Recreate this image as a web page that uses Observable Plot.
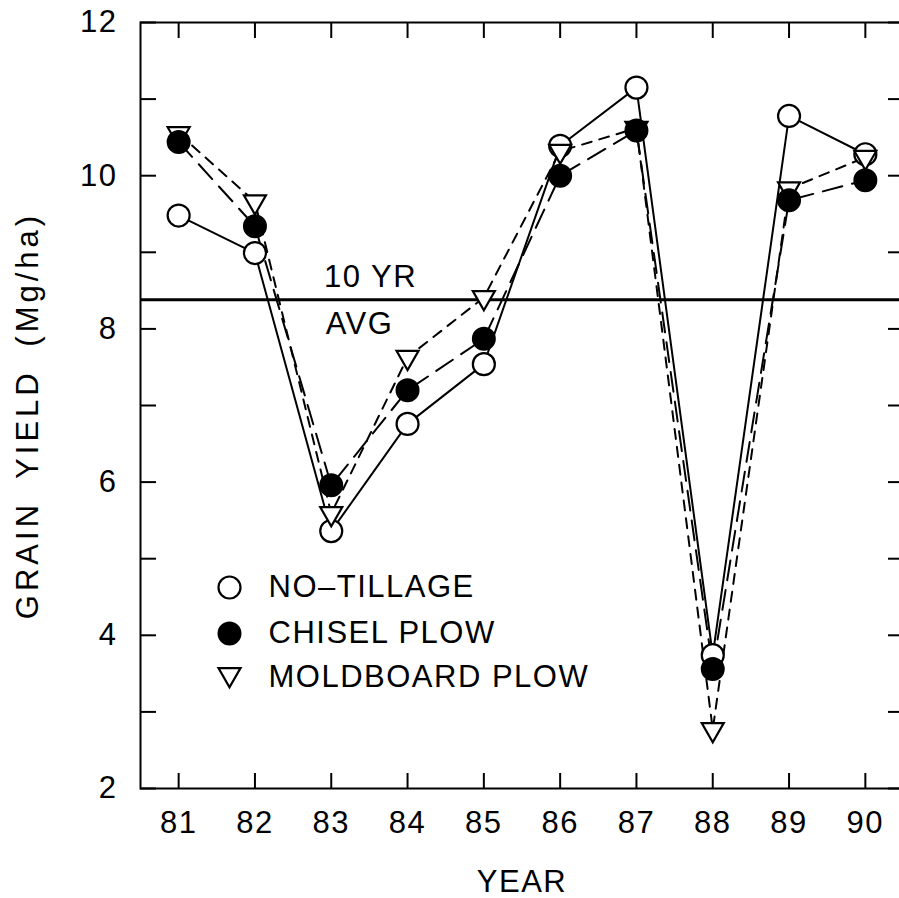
<!DOCTYPE html>
<html>
<head>
<meta charset="utf-8">
<script src="https://cdn.jsdelivr.net/npm/d3@7"></script>
<script src="https://cdn.jsdelivr.net/npm/@observablehq/plot@0.6"></script>
<style>
  html, body { margin: 0; padding: 0; background: #fff; }
  #chart { width: 899px; height: 898px; overflow: hidden; }
</style>
</head>
<body>
<div id="chart"></div>
<script>
const years = [81, 82, 83, 84, 85, 86, 87, 88, 89, 90];
const noTillage = [9.48, 8.99, 5.36, 6.76, 7.54, 10.39, 11.15, 3.74, 10.78, 10.28];
const chiselPlow = [10.44, 9.34, 5.96, 7.20, 7.87, 10.00, 10.59, 3.56, 9.68, 9.94];
const moldboardPlow = [10.55, 9.66, 5.59, 7.63, 8.41, 10.32, 10.62, 2.77, 9.83, 10.24];
const tenYearAvg = 8.38;
const yTicks = [2, 4, 6, 8, 10, 12];
const yMinorTicks = [2, 3, 4, 5, 6, 7, 8, 9, 10, 11, 12];
const legendLabels = ["NO\u2013TILLAGE", "CHISEL PLOW", "MOLDBOARD PLOW"];

const rows = (vals, series) => years.map((yr, i) => ({year: yr, value: vals[i], series}));
const nt = rows(noTillage, "NO-TILLAGE");
const cp = rows(chiselPlow, "CHISEL PLOW");
const mp = rows(moldboardPlow, "MOLDBOARD PLOW");

const triangleDown = {
  draw(context, size) {
    const r = Math.sqrt(size / Math.PI);
    context.moveTo(-r, -0.577 * r);
    context.lineTo(r, -0.577 * r);
    context.lineTo(0, 1.155 * r);
    context.closePath();
  }
};

const font = "Liberation Sans, Arial, Helvetica, sans-serif";
const R = 11;
const tickOpts = {tickFormat: null, label: null, strokeWidth: 2, fill: "none"};
const txt = {fontSize: 31, lineAnchor: "middle"};

const chart = Plot.plot({
  width: 899,
  height: 898,
  marginLeft: 140,
  marginRight: -4,
  marginTop: 22,
  marginBottom: 110,
  style: {fontFamily: font, fontSize: "31px", color: "#000", background: "#fff", overflow: "hidden"},
  x: {domain: [80.5, 90.5], axis: null},
  y: {domain: [2, 12], axis: null},
  marks: [
    Plot.frame({stroke: "#000", strokeWidth: 2}),
    // inward ticks
    Plot.axisX(years, {anchor: "bottom", tickSize: -15, ...tickOpts}),
    Plot.axisX(years, {anchor: "top", tickSize: -15, ...tickOpts}),
    Plot.axisY(yMinorTicks, {anchor: "left", tickSize: -16, ...tickOpts}),
    Plot.axisY(yMinorTicks, {anchor: "right", tickSize: -16, ...tickOpts}),
    // tick labels
    Plot.axisX(years, {anchor: "bottom", tickSize: 0, tickPadding: 22, label: null, fontSize: 31, tickFormat: d => String(d)}),
    Plot.axisY(yTicks, {anchor: "left", tickSize: 0, tickPadding: 23, label: null, fontSize: 31, tickFormat: d => String(d)}),
    // axis titles
    Plot.text(["YEAR"], {frameAnchor: "bottom", dy: 94, textAnchor: "middle", text: d => d, ...txt}),
    Plot.text(["GRAIN YIELD (Mg/ha)"], {frameAnchor: "left", dx: -112, dy: 10, rotate: -90, textAnchor: "middle", text: d => d, className: "ylabel", ...txt}),
    // 10 yr average
    Plot.ruleY([tenYearAvg], {stroke: "#000", strokeWidth: 3}),
    Plot.text([tenYearAvg], {y: d => d, frameAnchor: "left", dx: 230, dy: -23, textAnchor: "middle", text: () => "10 YR", ...txt}),
    Plot.text([tenYearAvg], {y: d => d, frameAnchor: "left", dx: 219, dy: 24, textAnchor: "middle", text: () => "AVG", ...txt}),
    // series lines
    Plot.line(nt, {x: "year", y: "value", stroke: "#000", strokeWidth: 2}),
    Plot.line(cp, {x: "year", y: "value", stroke: "#000", strokeWidth: 2, strokeDasharray: "20,10"}),
    Plot.line(mp, {x: "year", y: "value", stroke: "#000", strokeWidth: 2, strokeDasharray: "10,8"}),
    // markers
    Plot.dot(nt, {x: "year", y: "value", r: R, fill: "#fff", stroke: "#000", strokeWidth: 2.2}),
    Plot.dot(mp, {x: "year", y: "value", r: R, symbol: triangleDown, fill: "#fff", stroke: "#000", strokeWidth: 2.2}),
    Plot.dot(cp, {x: "year", y: "value", r: R, fill: "#000", stroke: "#000", strokeWidth: 2}),
    // legend
    Plot.dot([legendLabels[0]], {frameAnchor: "top-left", dx: 89, dy: 565, r: R, fill: "#fff", stroke: "#000", strokeWidth: 2.2}),
    Plot.dot([legendLabels[1]], {frameAnchor: "top-left", dx: 89, dy: 611, r: R, fill: "#000", stroke: "#000", strokeWidth: 2}),
    Plot.dot([legendLabels[2]], {frameAnchor: "top-left", dx: 89, dy: 652, r: R, symbol: triangleDown, fill: "#fff", stroke: "#000", strokeWidth: 2.2}),
    Plot.text([legendLabels[0]], {frameAnchor: "top-left", dx: 128, dy: 565, text: d => d, textAnchor: "start", ...txt}),
    Plot.text([legendLabels[1]], {frameAnchor: "top-left", dx: 128, dy: 611, text: d => d, textAnchor: "start", ...txt}),
    Plot.text([legendLabels[2]], {frameAnchor: "top-left", dx: 128, dy: 655, text: d => d, textAnchor: "start", ...txt})
  ]
});
chart.querySelectorAll("text").forEach(t => t.setAttribute("letter-spacing", "1.5"));
chart.querySelectorAll(".ylabel text").forEach(t => {
  t.setAttribute("letter-spacing", "4");
  t.setAttribute("word-spacing", "10");
});
document.getElementById("chart").appendChild(chart);
</script>
</body>
</html>
